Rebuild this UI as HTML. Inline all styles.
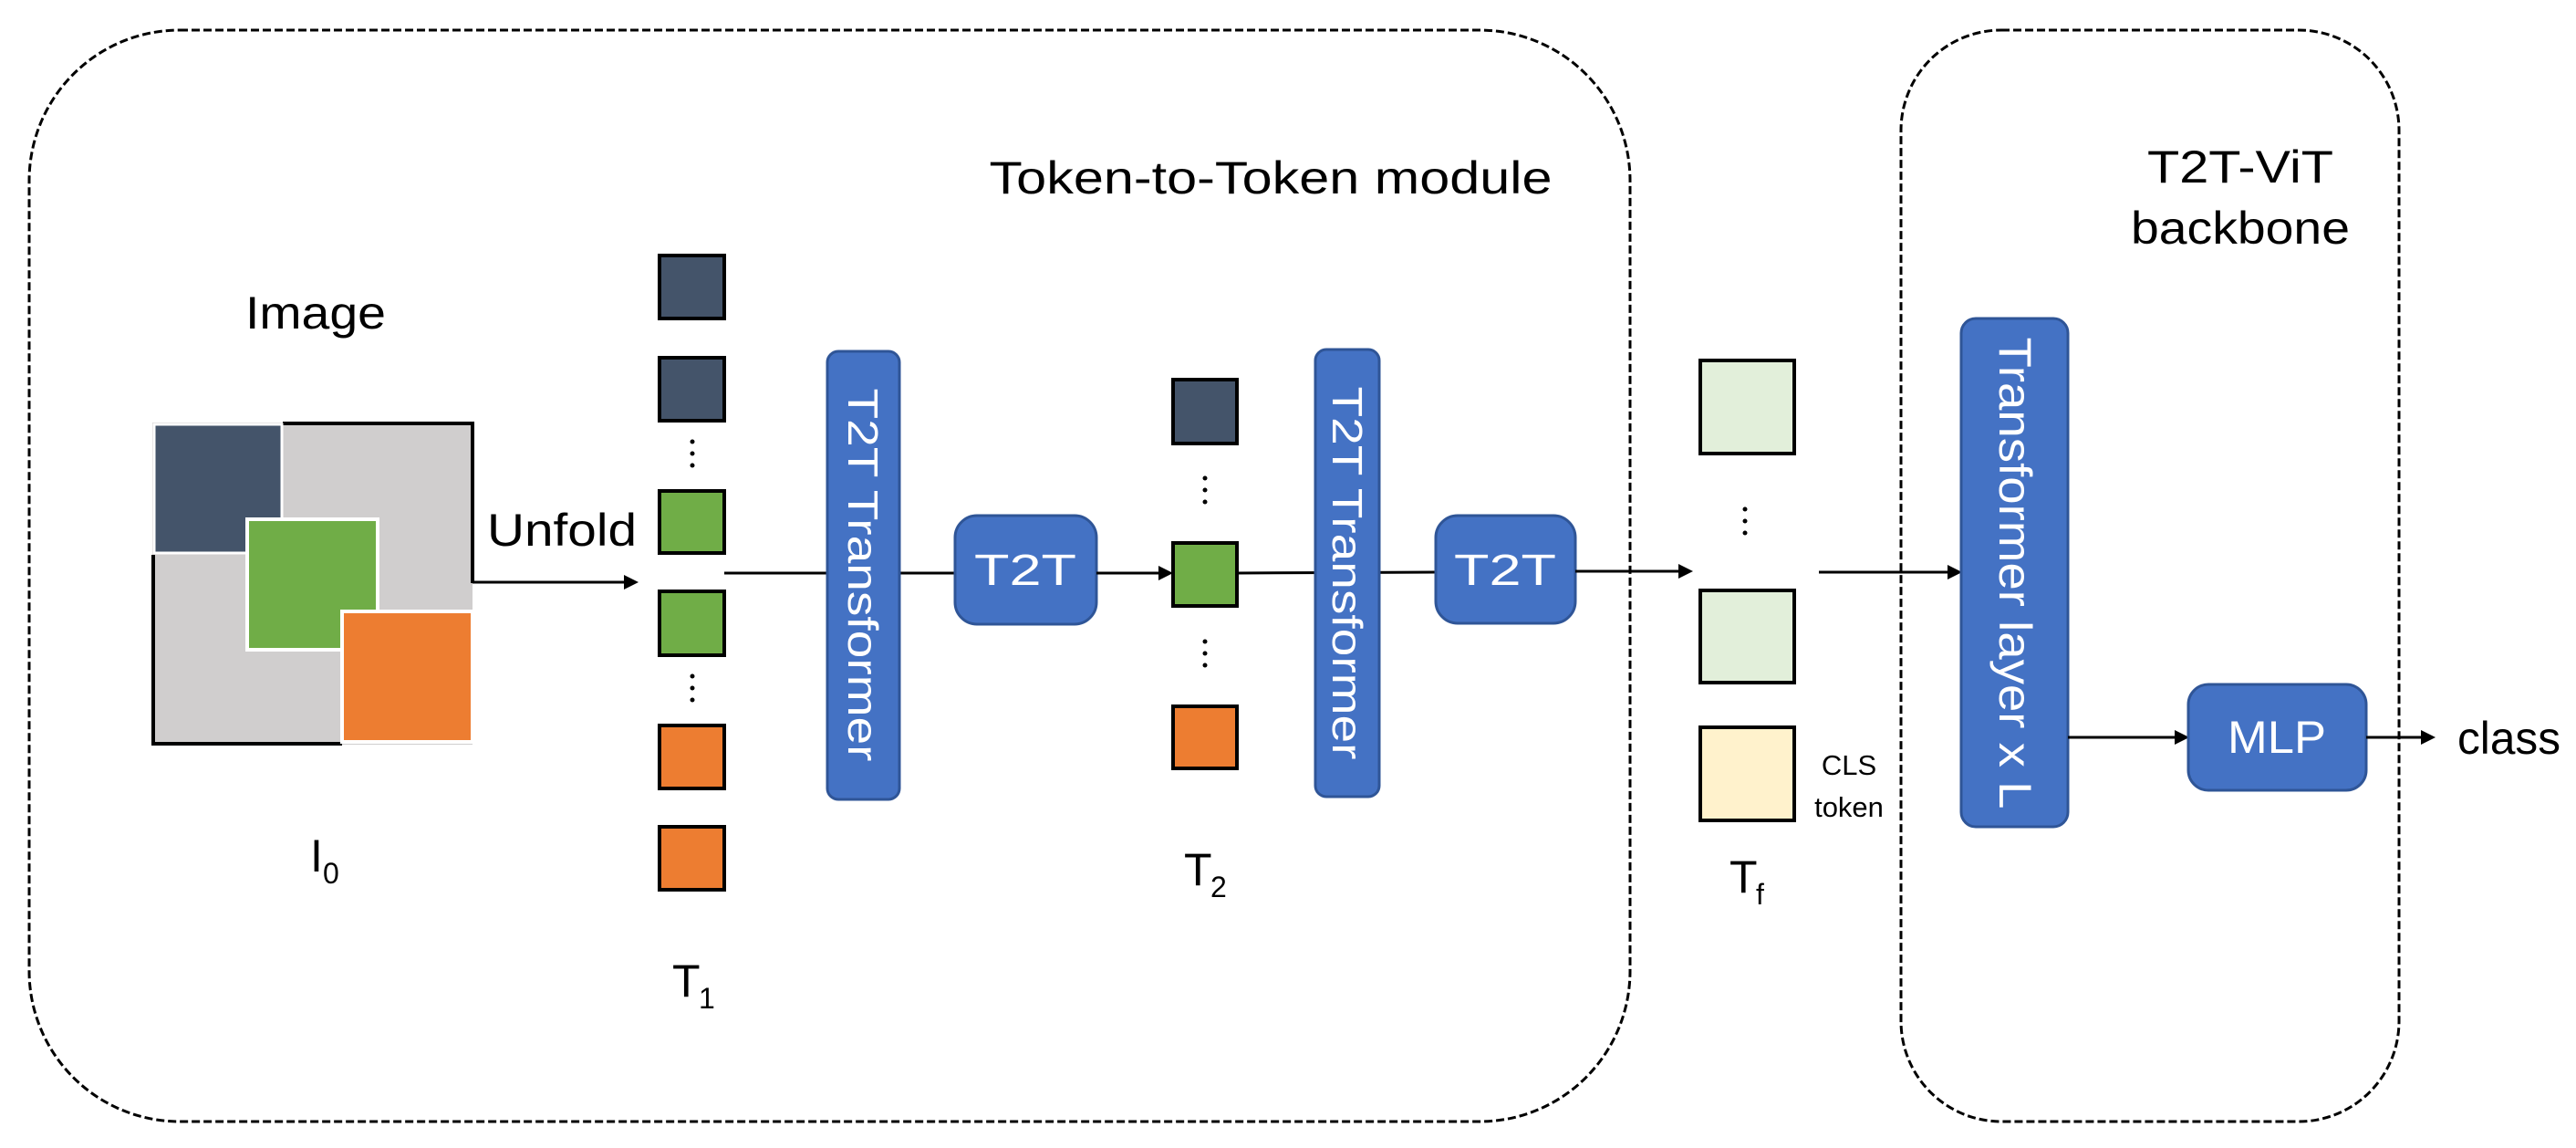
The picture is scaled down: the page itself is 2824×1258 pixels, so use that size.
<!DOCTYPE html>
<html><head><meta charset="utf-8"><style>html,body{margin:0;padding:0;background:#fff}svg{display:block}</style></head>
<body>
<svg width="2824" height="1258" viewBox="0 0 2824 1258" xmlns="http://www.w3.org/2000/svg" font-family="Liberation Sans, DejaVu Sans, sans-serif">
<defs>
<marker id="ar" markerWidth="10" markerHeight="10" refX="9" refY="5" orient="auto" markerUnits="userSpaceOnUse"><path d="M0,0 L0,0" /></marker>
</defs>
<!-- dashed containers -->
<rect x="32" y="33" width="1755" height="1196" rx="165" ry="165" fill="none" stroke="#000" stroke-width="3" stroke-dasharray="9,4"/>
<rect x="2084" y="33" width="546" height="1196" rx="110" ry="110" fill="none" stroke="#000" stroke-width="3" stroke-dasharray="9,4"/>

<text x="1393" y="212" font-size="50" text-anchor="middle" textLength="617" lengthAdjust="spacingAndGlyphs">Token-to-Token module</text>
<text x="2456" y="200" font-size="50" text-anchor="middle" textLength="204" lengthAdjust="spacingAndGlyphs">T2T-ViT</text>
<text x="2456" y="267" font-size="50" text-anchor="middle" textLength="240" lengthAdjust="spacingAndGlyphs">backbone</text>

<!-- Image -->
<text x="346" y="360" font-size="50" text-anchor="middle" textLength="154" lengthAdjust="spacingAndGlyphs">Image</text>
<rect x="167" y="463" width="351" height="353" fill="#d0cece"/>
<polyline points="310,464 518,464 518,639" fill="none" stroke="#000" stroke-width="4"/>
<polyline points="168,608 168,815 375,815" fill="none" stroke="#000" stroke-width="4"/>
<rect x="169" y="465" width="140" height="141" fill="#44546a" stroke="#fff" stroke-width="3"/>
<rect x="271" y="569" width="143" height="143" fill="#70ad47" stroke="#fff" stroke-width="4"/>
<rect x="375" y="670" width="143" height="143" fill="#ed7d31" stroke="#fff" stroke-width="4"/>
<text x="340" y="955" font-size="50">I</text><text x="354" y="968" font-size="32">0</text>

<!-- Unfold -->
<text x="616" y="598" font-size="50" text-anchor="middle" textLength="164" lengthAdjust="spacingAndGlyphs">Unfold</text>
<line x1="518" y1="638" x2="688" y2="638" stroke="#000" stroke-width="3"/>
<path d="M700,638 L684,630 L684,646 Z"/>

<!-- T1 tokens -->
<g stroke="#000" stroke-width="4">
<rect x="723" y="280" width="71" height="69" fill="#44546a"/>
<rect x="723" y="392" width="71" height="69" fill="#44546a"/>
<rect x="723" y="538" width="71" height="68" fill="#70ad47"/>
<rect x="723" y="648" width="71" height="70" fill="#70ad47"/>
<rect x="723" y="795" width="71" height="69" fill="#ed7d31"/>
<rect x="723" y="906" width="71" height="69" fill="#ed7d31"/>
</g>
<g fill="#000">
<circle cx="759" cy="484" r="2.5"/><circle cx="759" cy="497" r="2.5"/><circle cx="759" cy="510" r="2.5"/>
<circle cx="759" cy="741" r="2.5"/><circle cx="759" cy="754" r="2.5"/><circle cx="759" cy="767" r="2.5"/>
</g>
<text x="737" y="1092" font-size="50">T</text><text x="766" y="1105" font-size="32">1</text>

<!-- line T1 -> transformer -> T2T -->
<line x1="794" y1="628" x2="1047" y2="628" stroke="#000" stroke-width="3"/>
<rect x="907" y="385" width="79" height="491" rx="12" fill="#4472c4" stroke="#2f5597" stroke-width="3"/>
<text transform="translate(930,630) rotate(90)" font-size="46" fill="#fff" text-anchor="middle" textLength="409" lengthAdjust="spacingAndGlyphs">T2T Transformer</text>
<rect x="1047" y="565" width="155" height="119" rx="24" fill="#4472c4" stroke="#2f5597" stroke-width="3"/>
<text x="1124" y="641" font-size="48" fill="#fff" text-anchor="middle" textLength="112" lengthAdjust="spacingAndGlyphs">T2T</text>
<line x1="1202" y1="628" x2="1272" y2="628" stroke="#000" stroke-width="3"/>
<path d="M1286,628 L1270,620 L1270,636 Z"/>

<!-- T2 tokens -->
<g stroke="#000" stroke-width="4">
<rect x="1286" y="416" width="70" height="70" fill="#44546a"/>
<rect x="1286" y="595" width="70" height="69" fill="#70ad47"/>
<rect x="1286" y="774" width="70" height="68" fill="#ed7d31"/>
</g>
<g fill="#000">
<circle cx="1321" cy="524" r="2.5"/><circle cx="1321" cy="537" r="2.5"/><circle cx="1321" cy="550" r="2.5"/>
<circle cx="1321" cy="703" r="2.5"/><circle cx="1321" cy="716" r="2.5"/><circle cx="1321" cy="729" r="2.5"/>
</g>
<text x="1298" y="970" font-size="50">T</text><text x="1327" y="983" font-size="32">2</text>

<line x1="1356" y1="628" x2="1574" y2="627" stroke="#000" stroke-width="3"/>
<rect x="1442" y="383" width="70" height="490" rx="12" fill="#4472c4" stroke="#2f5597" stroke-width="3"/>
<text transform="translate(1461,628) rotate(90)" font-size="46" fill="#fff" text-anchor="middle" textLength="409" lengthAdjust="spacingAndGlyphs">T2T Transformer</text>
<rect x="1574" y="565" width="153" height="118" rx="24" fill="#4472c4" stroke="#2f5597" stroke-width="3"/>
<text x="1650" y="641" font-size="48" fill="#fff" text-anchor="middle" textLength="112" lengthAdjust="spacingAndGlyphs">T2T</text>
<line x1="1727" y1="626" x2="1842" y2="626" stroke="#000" stroke-width="3"/>
<path d="M1856,626 L1840,618 L1840,634 Z"/>

<!-- Tf tokens -->
<g stroke="#000" stroke-width="4">
<rect x="1864" y="395" width="103" height="102" fill="#e2efda"/>
<rect x="1864" y="647" width="103" height="101" fill="#e2efda"/>
<rect x="1864" y="797" width="103" height="102" fill="#fff2cc"/>
</g>
<g fill="#000">
<circle cx="1913" cy="558" r="2.5"/><circle cx="1913" cy="571" r="2.5"/><circle cx="1913" cy="584" r="2.5"/>
</g>
<text x="2027" y="849" font-size="31" text-anchor="middle">CLS</text>
<text x="2027" y="895" font-size="31" text-anchor="middle">token</text>
<text x="1896" y="978" font-size="50">T</text><text x="1925" y="991" font-size="32">f</text>

<line x1="1994" y1="627" x2="2137" y2="627" stroke="#000" stroke-width="3"/>
<path d="M2151,627 L2135,619 L2135,635 Z"/>

<!-- backbone -->
<rect x="2150" y="349" width="117" height="557" rx="16" fill="#4472c4" stroke="#2f5597" stroke-width="3"/>
<text transform="translate(2192,628) rotate(90)" font-size="50" fill="#fff" text-anchor="middle" textLength="517" lengthAdjust="spacingAndGlyphs">Transformer layer x L</text>
<line x1="2267" y1="808" x2="2386" y2="808" stroke="#000" stroke-width="3"/>
<path d="M2400,808 L2384,800 L2384,816 Z"/>
<rect x="2399" y="750" width="195" height="116" rx="22" fill="#4472c4" stroke="#2f5597" stroke-width="3"/>
<text x="2496" y="825" font-size="50" fill="#fff" text-anchor="middle" textLength="108" lengthAdjust="spacingAndGlyphs">MLP</text>
<line x1="2594" y1="808" x2="2656" y2="808" stroke="#000" stroke-width="3"/>
<path d="M2670,808 L2654,800 L2654,816 Z"/>
<text x="2694" y="826" font-size="50" textLength="113" lengthAdjust="spacingAndGlyphs">class</text>
</svg>
</body></html>
